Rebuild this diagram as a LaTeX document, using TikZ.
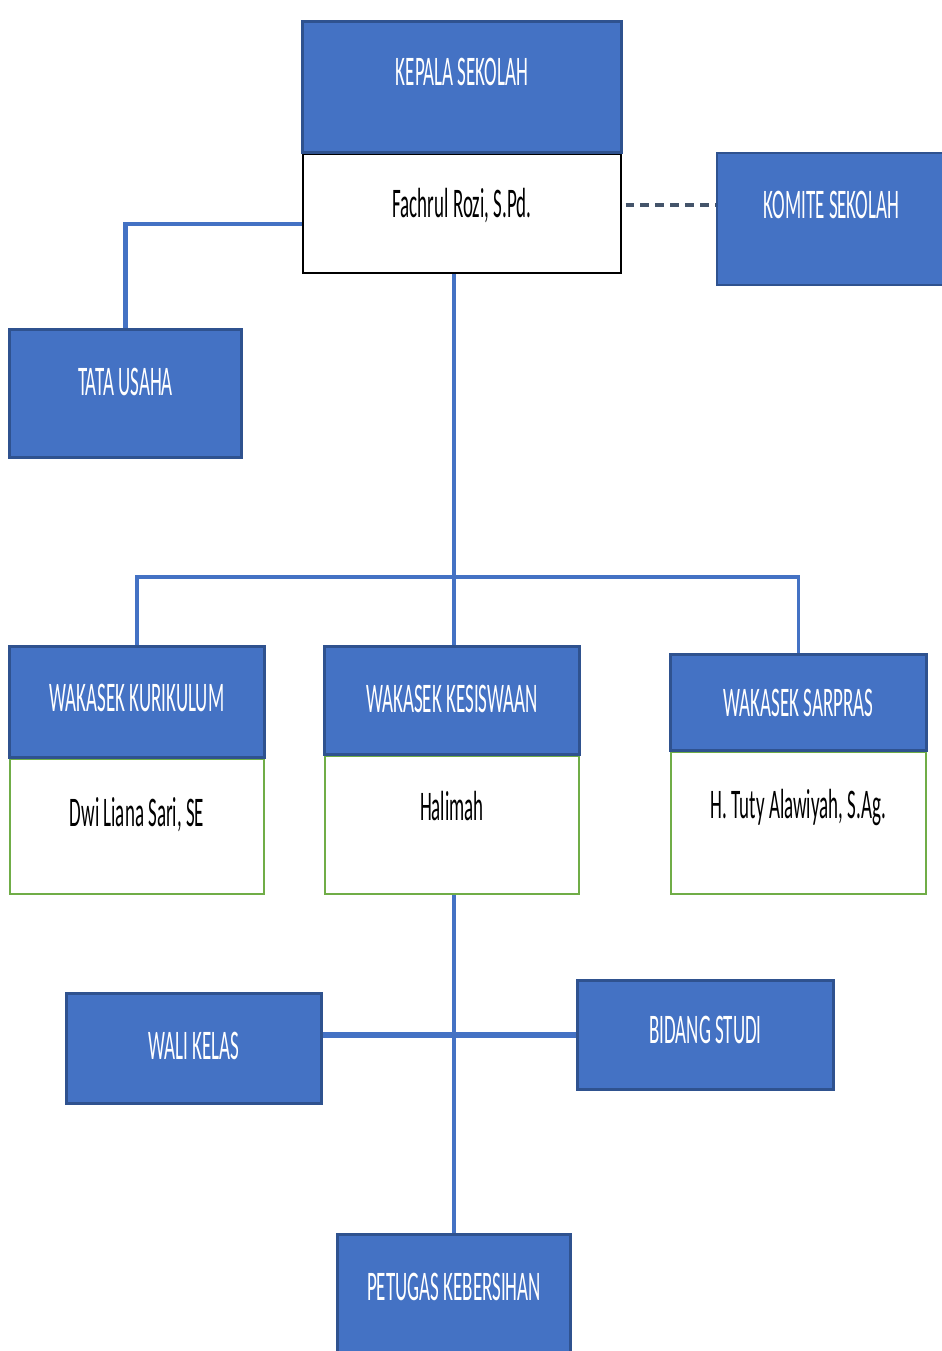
\documentclass[tikz,border=0pt]{standalone}
\usepackage{fontspec}
\usepackage{tikz}
\usetikzlibrary{calc,shapes,arrows,positioning}
\newfontfamily\orgfont[FakeStretch=0.45]{Carlito}
\definecolor{orgblue}{HTML}{4472C4}
\definecolor{orgdark}{HTML}{2F528F}
\definecolor{orggreen}{HTML}{70AD47}
\definecolor{orgslate}{HTML}{44546A}

\begin{document}
\begin{tikzpicture}[x=0.02cm, y=-0.02cm] % 1 Einheit = 1 px der Vorlage

		\tikzstyle{all} = [rectangle, inner sep=0pt, align=center, font=\orgfont\fontsize{24}{28}\selectfont, text height=0.55cm]
		\tikzstyle{block} = [all, draw=orgdark, line width=1.2pt, fill=orgblue, text=white]
		\tikzstyle{nama} = [all, draw=black, line width=1.2pt, fill=white, text=black]
		\tikzstyle{namahijau} = [all, draw=orggreen, line width=1pt, fill=white, text=black]
		\tikzstyle{link} = [draw=orgblue, line width=1.9pt]

		\useasboundingbox (0,0) rectangle (942,1351);

		% Kepala Sekolah und Komite
		\node [block, minimum width=6.36cm, minimum height=2.6cm, text depth=0.6cm] (kepala) at (462,87) {KEPALA SEKOLAH};
		\node [nama, below = 0pt of kepala, minimum width=6.36cm, minimum height=2.38cm, text depth=0.4cm] (kepalanama) {Fachrul Rozi, S.Pd.};
		\node [block, minimum width=4.58cm, minimum height=2.64cm, text depth=0.56cm] (komite) at (831.5,219) {KOMITE SEKOLAH};
		\node [block, minimum width=4.62cm, minimum height=2.54cm, text depth=0.48cm] (tatausaha) at (125.5,393.5) {TATA USAHA};

		% Wakasek (Reihenfolge: Namen zuerst, Titel darueber)
		\node [block, minimum width=5.08cm, minimum height=2.2cm, text depth=0.16cm] (kurikulum) at (137,702) {WAKASEK KURIKULUM};
		\node [namahijau, below = 0pt of kurikulum, minimum width=5.08cm, minimum height=2.7cm, text depth=0.56cm] (kurikulumnama) {Dwi Liana Sari, SE};
		\node [block, minimum width=5.08cm, minimum height=2.14cm, text depth=0.08cm] (kesiswaan) at (452,700.5) {WAKASEK KESISWAAN};
		\node [namahijau, below = 0pt of kesiswaan, minimum width=5.08cm, minimum height=2.76cm, text depth=0.72cm] (kesiswaannama) {Halimah};
		\node [block, minimum width=5.1cm, minimum height=1.9cm, text depth=0cm] (sarpras) at (798.5,702.5) {WAKASEK SARPRAS};
		\node [namahijau, below = 0pt of sarpras, minimum width=5.1cm, minimum height=2.84cm, text depth=0.72cm] (sarprasnama) {H. Tuty Alawiyah, S.Ag.};

		\node [block, minimum width=5.08cm, minimum height=2.18cm, text depth=0.12cm] (walikelas) at (194,1048.5) {WALI KELAS};
		\node [block, minimum width=5.1cm, minimum height=2.16cm, text depth=0.2cm] (bidangstudi) at (705.5,1035) {BIDANG STUDI};
		\node [block, minimum width=4.64cm, minimum height=2.42cm, text depth=0.34cm] (petugas) at (454,1295.5) {PETUGAS KEBERSIHAN};

		\coordinate (cabang) at (454,577);

		\draw [link, line width=2.4pt] ([yshift=-0.21cm]kepalanama.west) -| (tatausaha.north);
		\draw [draw=orgslate, line width=2.6pt, dash pattern=on 5pt off 3.5pt] ([xshift=2pt, yshift=0.17cm]kepalanama.east) -- ([yshift=0.17cm]kepalanama.east -| komite.west);
		\draw [link] (kepalanama.south -| cabang) -- (cabang |- kesiswaan.north);
		\draw [link] (kurikulum.north) |- (cabang) -| (sarpras.north);
		\draw [link] (kesiswaannama.south -| cabang) -- (cabang |- petugas.north);
		\draw [link, line width=3pt] (walikelas.east |- bidangstudi.west) -- (bidangstudi.west);

		% Kastenraender ueber die Linien
		\foreach \n in {kepala, walikelas, bidangstudi, petugas, kesiswaan, kurikulum, sarpras, tatausaha}
			\draw [draw=orgdark, line width=1.2pt] (\n.north west) rectangle (\n.south east);

\end{tikzpicture}
\end{document}
